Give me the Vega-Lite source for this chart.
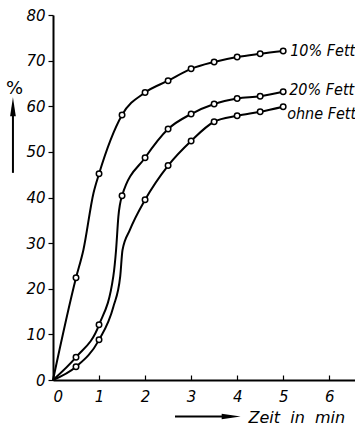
{
  "$schema": "https://vega.github.io/schema/vega-lite/v6.json",
  "width": 302,
  "height": 365,
  "autosize": "none",
  "padding": {"left": 53, "top": 15, "right": 0, "bottom": 48},
  "background": "white",
  "config": {
    "view": {"stroke": null},
    "font": "DejaVu Sans",
    "axis": {"grid": false, "domainColor": "black", "domainWidth": 2, "tickColor": "black", "tickWidth": 1.2,
             "labelColor": "black", "labelFont": "DejaVu Sans", "labelFontStyle": "italic", "labelFontSize": 15,
             "titleColor": "black", "titleFont": "DejaVu Sans", "titleFontStyle": "italic", "titleFontWeight": "normal", "titleFontSize": 16}
  },
  "datasets": {
    "curves": [
      {"series": "10% Fett", "x": 0, "y": 0, "m": false},
      {"series": "10% Fett", "x": 0.5, "y": 22.4, "m": true},
      {"series": "10% Fett", "x": 0.66, "y": 28.5, "m": false},
      {"series": "10% Fett", "x": 0.88, "y": 41, "m": false},
      {"series": "10% Fett", "x": 1, "y": 45.2, "m": true},
      {"series": "10% Fett", "x": 1.5, "y": 58.1, "m": true},
      {"series": "10% Fett", "x": 2, "y": 63, "m": true},
      {"series": "10% Fett", "x": 2.5, "y": 65.6, "m": true},
      {"series": "10% Fett", "x": 3, "y": 68.2, "m": true},
      {"series": "10% Fett", "x": 3.5, "y": 69.7, "m": true},
      {"series": "10% Fett", "x": 4, "y": 70.8, "m": true},
      {"series": "10% Fett", "x": 4.5, "y": 71.5, "m": true},
      {"series": "10% Fett", "x": 5, "y": 72.1, "m": true},
      {"series": "20% Fett", "x": 0, "y": 0, "m": false},
      {"series": "20% Fett", "x": 0.5, "y": 5, "m": true},
      {"series": "20% Fett", "x": 1, "y": 12.1, "m": true},
      {"series": "20% Fett", "x": 1.31, "y": 22.7, "m": false},
      {"series": "20% Fett", "x": 1.37, "y": 28.5, "m": false},
      {"series": "20% Fett", "x": 1.42, "y": 35.8, "m": false},
      {"series": "20% Fett", "x": 1.5, "y": 40.4, "m": true},
      {"series": "20% Fett", "x": 2, "y": 48.7, "m": true},
      {"series": "20% Fett", "x": 2.5, "y": 55, "m": true},
      {"series": "20% Fett", "x": 3, "y": 58.3, "m": true},
      {"series": "20% Fett", "x": 3.5, "y": 60.5, "m": true},
      {"series": "20% Fett", "x": 4, "y": 61.7, "m": true},
      {"series": "20% Fett", "x": 4.5, "y": 62.2, "m": true},
      {"series": "20% Fett", "x": 5, "y": 63.2, "m": true},
      {"series": "ohne Fett", "x": 0, "y": 0, "m": false},
      {"series": "ohne Fett", "x": 0.5, "y": 2.9, "m": true},
      {"series": "ohne Fett", "x": 1, "y": 8.8, "m": true},
      {"series": "ohne Fett", "x": 1.31, "y": 16, "m": false},
      {"series": "ohne Fett", "x": 1.46, "y": 22.7, "m": false},
      {"series": "ohne Fett", "x": 1.51, "y": 28.5, "m": false},
      {"series": "ohne Fett", "x": 1.67, "y": 32.9, "m": false},
      {"series": "ohne Fett", "x": 2, "y": 39.5, "m": true},
      {"series": "ohne Fett", "x": 2.5, "y": 47, "m": true},
      {"series": "ohne Fett", "x": 3, "y": 52.4, "m": true},
      {"series": "ohne Fett", "x": 3.5, "y": 56.6, "m": true},
      {"series": "ohne Fett", "x": 4, "y": 57.9, "m": true},
      {"series": "ohne Fett", "x": 4.5, "y": 58.8, "m": true},
      {"series": "ohne Fett", "x": 5, "y": 59.9, "m": true}
    ],
    "arrows": [
      {"dir": "x", "x": 2.65, "x2": 3.87, "y": -8, "y2": -8},
      {"dir": "y", "x": -0.87, "x2": -0.87, "y": 45.4, "y2": 59.9}
    ],
    "heads": [
      {"dir": "x", "x": 3.87, "y": -8, "shape": "M1,0L-1,0.3L-1,-0.3Z"},
      {"dir": "y", "x": -0.87, "y": 59.9, "shape": "M0,-1L0.3,1L-0.3,1Z"}
    ]
  },
  "layer": [
    {
      "data": {"name": "curves"},
      "mark": {"type": "line", "interpolate": "monotone", "color": "black", "strokeWidth": 2},
      "encoding": {
        "x": {"field": "x", "type": "quantitative",
              "scale": {"domain": [0, 6.56], "nice": false, "zero": false},
              "axis": {"values": [0, 1, 2, 3, 4, 5, 6], "tickSize": -5, "labelPadding": 14, "title": "Zeit\u00a0 in\u00a0 min",
                       "titleX": 195, "titleY": 37, "titleAlign": "left", "titleBaseline": "middle"}},
        "y": {"field": "y", "type": "quantitative",
              "scale": {"domain": [0, 80], "nice": false},
              "axis": {"values": [0, 10, 20, 30, 40, 50, 60, 70, 80], "tickSize": 5, "labelPadding": 3, "title": "%",
                       "titleAngle": 0, "titleX": -39, "titleY": 73, "titleAlign": "center", "titleBaseline": "middle", "titleFontSize": 18, "titleFontStyle": "normal"}},
        "detail": {"field": "series"}
      }
    },
    {
      "data": {"name": "curves"},
      "transform": [{"filter": "datum.m"}],
      "mark": {"type": "point", "shape": "circle", "filled": true, "fill": "white", "stroke": "black", "strokeWidth": 1.5, "size": 30, "opacity": 1},
      "encoding": {
        "x": {"field": "x", "type": "quantitative"},
        "y": {"field": "y", "type": "quantitative"}
      }
    },
    {
      "data": {"name": "curves"},
      "transform": [{"filter": "datum.x == 5 && datum.series == '10% Fett'"}],
      "mark": {"type": "text", "align": "left", "baseline": "middle", "dx": 7, "dy": 0, "font": "DejaVu Sans Condensed", "fontStyle": "italic", "fontSize": 16},
      "encoding": {"x": {"field": "x", "type": "quantitative"}, "y": {"field": "y", "type": "quantitative"}, "text": {"field": "series"}}
    },
    {
      "data": {"name": "curves"},
      "transform": [{"filter": "datum.x == 5 && datum.series == '20% Fett'"}],
      "mark": {"type": "text", "align": "left", "baseline": "middle", "dx": 6, "dy": -2, "font": "DejaVu Sans Condensed", "fontStyle": "italic", "fontSize": 16},
      "encoding": {"x": {"field": "x", "type": "quantitative"}, "y": {"field": "y", "type": "quantitative"}, "text": {"field": "series"}}
    },
    {
      "data": {"name": "curves"},
      "transform": [{"filter": "datum.x == 5 && datum.series == 'ohne Fett'"}],
      "mark": {"type": "text", "align": "left", "baseline": "middle", "dx": 4, "dy": 7, "font": "DejaVu Sans Condensed", "fontStyle": "italic", "fontSize": 16},
      "encoding": {"x": {"field": "x", "type": "quantitative"}, "y": {"field": "y", "type": "quantitative"}, "text": {"field": "series"}}
    },
    {
      "data": {"name": "arrows"},
      "mark": {"type": "rule", "color": "black", "strokeWidth": 2},
      "encoding": {"x": {"field": "x", "type": "quantitative"}, "x2": {"field": "x2"}, "y": {"field": "y", "type": "quantitative"}, "y2": {"field": "y2"}}
    },
    {
      "data": {"name": "heads"},
      "mark": {"type": "point", "filled": true, "color": "black", "size": 360, "opacity": 1},
      "encoding": {"x": {"field": "x", "type": "quantitative"}, "y": {"field": "y", "type": "quantitative"}, "shape": {"field": "shape", "type": "nominal", "scale": null}}
    }
  ]
}
